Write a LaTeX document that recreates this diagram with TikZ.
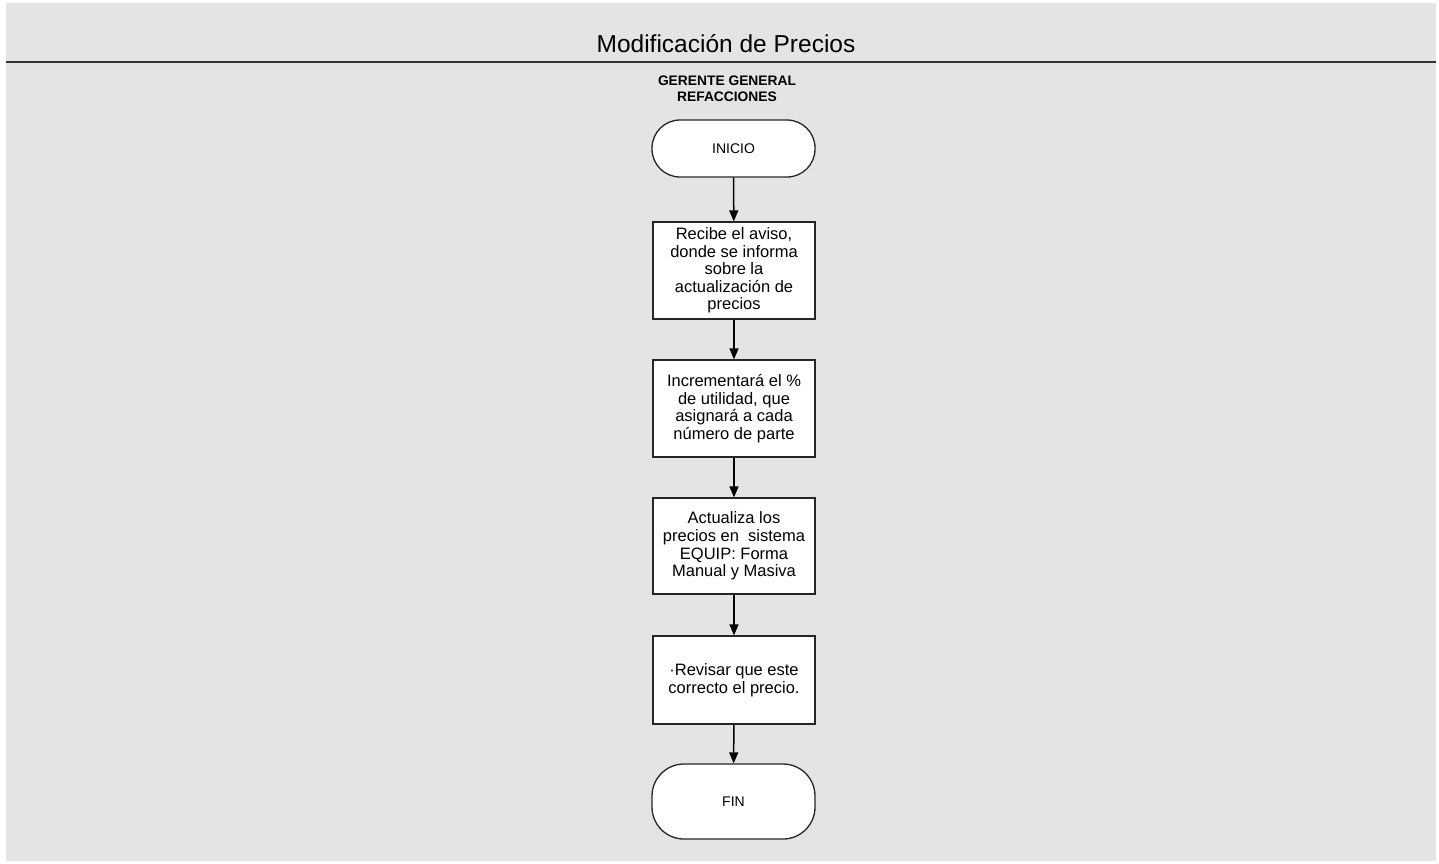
\documentclass[tikz,border=0pt]{standalone}
\usepackage{fontspec}
\setmainfont{Liberation Sans}
\usetikzlibrary{arrows.meta}
\definecolor{pagebg}{HTML}{E4E4E4}
\definecolor{rulecol}{HTML}{333333}
\tikzset{
  flowbox/.style={draw=black!85, line width=1.3pt, fill=white, align=center,
    minimum width=162pt, inner sep=2pt,
    font=\fontsize{16.5}{17.6}\selectfont},
  terminal/.style={draw=black!85, line width=1.3pt, fill=white, align=center,
    minimum width=163pt, font=\fontsize{14}{16}\selectfont},
  flowarrow/.style={draw=black, line width=1.5pt, -{Triangle[length=11pt,width=9pt]}},
}
\begin{document}
\begin{tikzpicture}[x=1pt,y=-1pt]
  \useasboundingbox (0,0) rectangle (1439,863);
  % page background
  \fill[white] (0,0) rectangle (1439,863);
  \fill[pagebg] (6,3) rectangle (1436,861);
  % title and rule
  \node[font=\fontsize{24.5}{28}\selectfont] (title) at (726,44) {Modificación de Precios};
  \draw[rulecol, line width=2pt] (6,62) -- (1436,62);
  % lane label
  \node[font=\bfseries\fontsize{13.8}{16}\selectfont, align=center] (lane) at (727,89)
    {GERENTE GENERAL\\REFACCIONES};
  % flow steps
  \node[terminal, minimum height=57pt, rounded corners=28pt] (inicio) at (733.5,148.5) {INICIO};
  \node[flowbox, minimum height=97pt] (s1) at (734,270.5)
    {Recibe el aviso,\\donde se informa\\sobre la\\actualización de\\precios};
  \node[flowbox, minimum height=97pt] (s2) at (734,408.5)
    {Incrementará el \%\\de utilidad, que\\asignará a cada\\número de parte};
  \node[flowbox, minimum height=96pt] (s3) at (734,546)
    {Actualiza los\\precios en~ sistema\\EQUIP: Forma\\Manual y Masiva};
  \node[flowbox, minimum height=88pt] (s4) at (734,680)
    {·Revisar que este\\correcto el precio.};
  \node[terminal, minimum height=75pt, rounded corners=32pt] (fin) at (733.5,801.5) {FIN};
  % connectors
  \draw[flowarrow] (inicio) -- (s1);
  \draw[flowarrow] (s1) -- (s2);
  \draw[flowarrow] (s2) -- (s3);
  \draw[flowarrow] (s3) -- (s4);
  \draw[flowarrow] (s4) -- (fin);
\end{tikzpicture}
\end{document}
